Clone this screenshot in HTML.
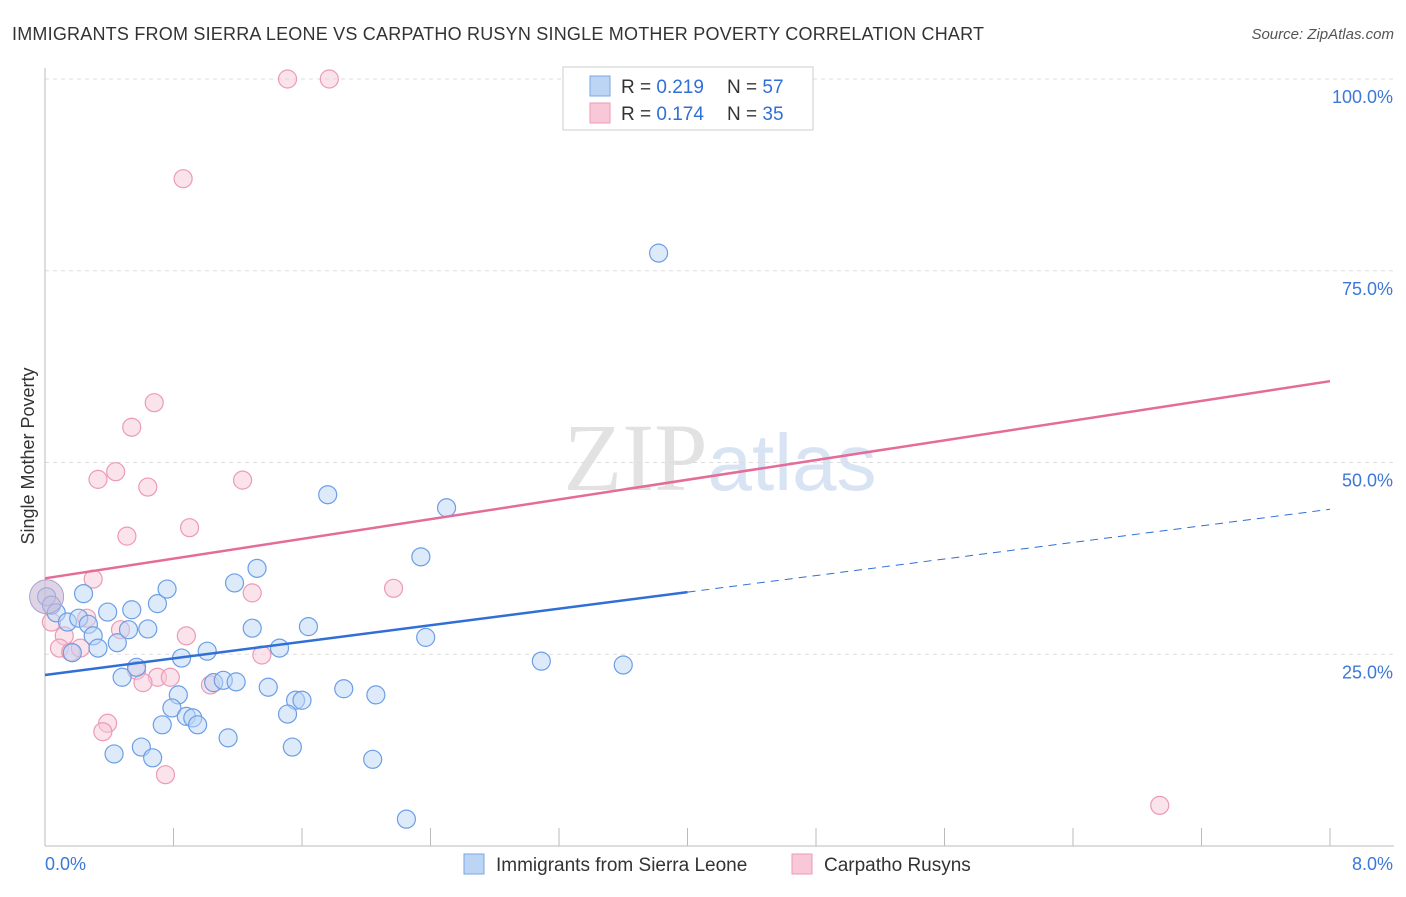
<!DOCTYPE html>
<html><head><meta charset="utf-8"><style>
body{margin:0;background:#fff;font-family:"Liberation Sans",sans-serif}
</style></head><body>
<svg width="1406" height="892" xmlns="http://www.w3.org/2000/svg" id="svg">
<text x="12" y="40" font-size="18" fill="#333" textLength="972">IMMIGRANTS FROM SIERRA LEONE VS CARPATHO RUSYN SINGLE MOTHER POVERTY CORRELATION CHART</text>
<text x="1394" y="39" font-size="15" fill="#555" text-anchor="end" font-style="italic">Source: ZipAtlas.com</text>
<text x="720" y="490" font-size="96" fill="#e2e2e2" text-anchor="middle" font-family="Liberation Serif">ZIP<tspan fill="#d8e3f3" font-family="Liberation Sans" font-size="80">atlas</tspan></text>
<text transform="translate(34,456) rotate(-90)" font-size="18" fill="#333" text-anchor="middle">Single Mother Poverty</text>
<g id="grid"></g><g id="pts"></g><g id="lines"></g>
<g>
<rect x="563" y="67" width="250" height="63" fill="#fff" stroke="#ccc"/>
<rect x="590" y="76" width="20" height="20" fill="#bcd5f5" stroke="#7aa6e6"/>
<text x="621" y="93" font-size="19" fill="#333">R = <tspan fill="#2f6fd6">0.219</tspan></text>
<text x="727" y="93" font-size="19" fill="#333">N = <tspan fill="#2f6fd6">57</tspan></text>
<rect x="590" y="103" width="20" height="20" fill="#f8c8d8" stroke="#ec9ab5"/>
<text x="621" y="120" font-size="19" fill="#333">R = <tspan fill="#2f6fd6">0.174</tspan></text>
<text x="727" y="120" font-size="19" fill="#333">N = <tspan fill="#2f6fd6">35</tspan></text>
</g>
<g>
<rect x="464" y="854" width="20" height="20" fill="#bcd5f5" stroke="#7aa6e6"/>
<text x="496" y="871" font-size="19" fill="#333">Immigrants from Sierra Leone</text>
<rect x="792" y="854" width="20" height="20" fill="#f8c8d8" stroke="#ec9ab5"/>
<text x="824" y="871" font-size="19" fill="#333">Carpatho Rusyns</text>
</g>
</svg>
<script>
const yTicks=[25,50,75,100];
const xTickLabels=["0.0%","8.0%"];
const blueX=[0.01,0.04,0.07,0.14,0.21,0.27,0.24,0.30,0.33,0.17,0.39,0.45,0.52,0.54,0.64,0.70,0.76,0.85,1.01,1.18,1.32,1.29,1.46,1.64,1.76,2.50,2.34,2.37,0.57,0.48,0.83,0.79,0.88,0.92,0.95,0.73,1.05,1.11,1.19,1.39,1.56,1.60,1.51,1.14,0.60,0.67,0.43,1.54,1.86,2.06,2.04,2.25,3.09,3.60,3.82];
const blueY=[32.5,31.4,30.4,29.2,29.7,28.9,32.9,27.4,25.8,25.2,30.5,26.5,28.2,30.8,28.3,31.6,33.5,24.5,25.4,34.3,36.2,28.4,25.8,28.6,45.8,44.1,37.7,27.2,23.3,22.0,19.7,18.0,16.9,16.7,15.8,15.8,21.3,21.6,21.4,20.7,19.0,19.0,17.2,14.1,12.9,11.5,12.0,12.9,20.5,19.7,11.3,3.5,24.1,23.6,77.3];
const pinkX=[1.51,1.77,0.86,0.68,0.54,0.44,0.33,0.64,1.23,0.90,0.51,0.30,2.17,1.29,0.26,0.04,0.12,0.09,0.16,0.22,0.47,0.88,1.35,0.57,0.70,0.78,0.61,1.03,0.39,0.36,0.75,6.94];
const pinkY=[100,100,87.0,57.8,54.6,48.8,47.8,46.8,47.7,41.5,40.4,34.8,33.6,33.0,29.7,29.2,27.4,25.8,25.3,25.8,28.2,27.4,24.9,22.9,22.0,22.0,21.3,21.0,16.0,14.9,9.3,5.3];
const blueTrend=[22.3,43.9]; const pinkTrend=[34.9,60.6];
const X=v=>45+v/8*1285, Y=v=>846-v*7.67;
const NS="http://www.w3.org/2000/svg";
function mk(t,a,p){const e=document.createElementNS(NS,t);for(const k in a)e.setAttribute(k,a[k]);p.appendChild(e);return e;}
const g=document.getElementById('grid');
yTicks.forEach(v=>{
 const l=mk('line',{x1:45,x2:1394,y1:Y(v),y2:Y(v),stroke:'#ddd','stroke-dasharray':'4,4'},g);
 
 
 const t=mk('text',{x:1393,y:Y(v)+24,'font-size':18,fill:'#3b78d8','text-anchor':'end'},g);t.textContent=v.toFixed(1)+'%';
 
 
});
mk('line',{x1:45,x2:45,y1:68,y2:846,stroke:'#bbb'},g);
mk('line',{x1:45,x2:1394,y1:846,y2:846,stroke:'#bbb'},g);
for(let i=0;i<=10;i++){mk('line',{x1:X(i*0.8),x2:X(i*0.8),y1:828,y2:846,stroke:'#bbb'},g);}
xTickLabels.forEach((s,i)=>{const t=mk('text',{x:i?1393:45,y:870,'font-size':18,fill:'#3b78d8','text-anchor':i?'end':'start'},g);t.textContent=s;
 
 });
const p=document.getElementById('pts');
function dots(xs,ys,f,s,n){xs.forEach((x,i)=>{const c=mk('circle',{cx:X(x),cy:Y(ys[i]),r:9,fill:f,'fill-opacity':0.5,stroke:s,'stroke-width':1.2},p);
 
 });}
dots(pinkX,pinkY,'#f8c8d8','#ec9ab5','pink-point');
dots(blueX,blueY,'#bcd5f5','#6c9ee6','blue-point');
const big=mk('circle',{cx:X(0.01),cy:Y(32.5),r:17,fill:'#c9b6d6','fill-opacity':0.6,stroke:'#a9a0d0'},p);


const L=document.getElementById('lines');
const ya=t=>v=>t[0]+(t[1]-t[0])*v/8;
const bl=ya(blueTrend),pl=ya(pinkTrend);
let e=mk('line',{x1:X(0),y1:Y(bl(0)),x2:X(4),y2:Y(bl(4)),stroke:'#2f6fd6','stroke-width':2.5},L);


e=mk('line',{x1:X(4),y1:Y(bl(4)),x2:X(8),y2:Y(bl(8)),stroke:'#2f6fd6','stroke-width':1,'stroke-dasharray':'8,6'},L);


e=mk('line',{x1:X(0),y1:Y(pl(0)),x2:X(8),y2:Y(pl(8)),stroke:'#e56b98','stroke-width':2.5},L);


</script>
</body></html>
